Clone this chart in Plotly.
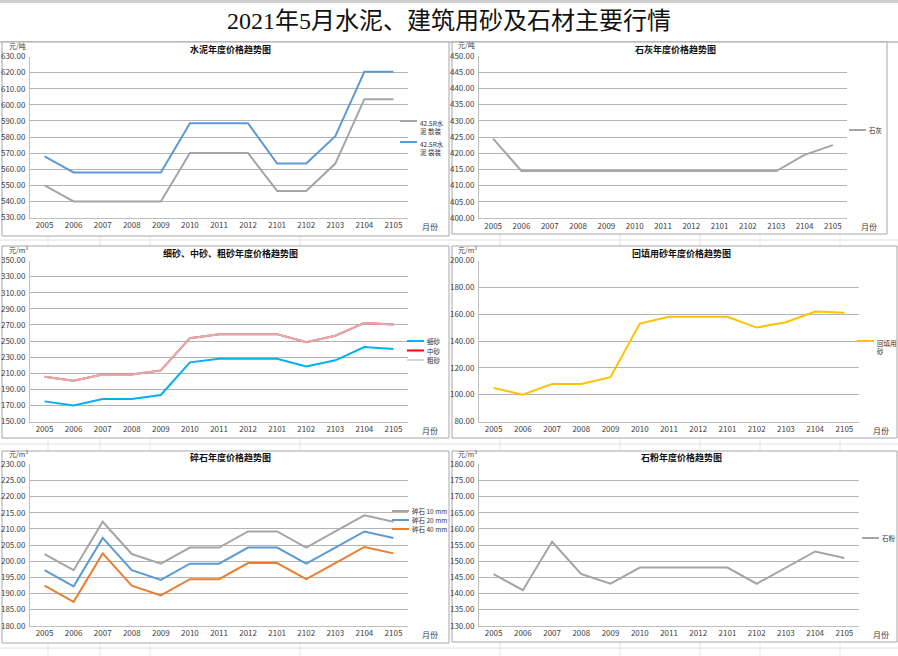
import plotly.graph_objects as go

W, H = 898, 656

months = ["2005", "2006", "2007", "2008", "2009", "2010", "2011", "2012",
          "2101", "2102", "2103", "2104", "2105"]

cement_bulk = [550, 540, 540, 540, 540, 570, 570, 570, 546.5, 546.5, 563.5, 603.5, 603.5]
cement_bag = [568, 558, 558, 558, 558, 588.5, 588.5, 588.5, 563.5, 563.5, 580.5, 620.5, 620.5]

lime = [424.5, 414.5, 414.5, 414.5, 414.5, 414.5, 414.5, 414.5, 414.5, 414.5, 414.5, 419.5, 422.5]

fine_sand = [175, 170, 178, 178, 183, 223.5, 228, 228, 228, 218.5, 226, 242.5, 240]
medium_sand = [205.5, 200.5, 208.5, 208.5, 213.5, 253.5, 258.5, 258.5, 258.5, 248.5, 256.5, 272.5, 270.5]
coarse_sand = [205.5, 200.5, 208.5, 208.5, 213.5, 253.5, 258.5, 258.5, 258.5, 248.5, 256.5, 272.5, 270.5]

backfill_sand = [105, 100, 108, 108, 113, 153, 158, 158, 158, 150, 154, 162, 161]

stone_10 = [202.2, 197.2, 212.2, 202.2, 199.2, 204.2, 204.2, 209.2, 209.2, 204.2, 209.2, 214.2, 212.2]
stone_20 = [197.2, 192.2, 207.2, 197.2, 194.2, 199.2, 199.2, 204.2, 204.2, 199.2, 204.2, 209.2, 207.2]
stone_40 = [192.4, 187.4, 202.4, 192.4, 189.4, 194.4, 194.4, 199.4, 199.4, 194.4, 199.4, 204.4, 202.4]

stone_powder = [146, 141, 156, 146, 143, 148, 148, 148, 148, 143, 148, 153, 151]

main_title = "2021年5月水泥、建筑用砂及石材主要行情"

CJK = "Noto Sans CJK SC, Liberation Sans, sans-serif"
TXT = "#404040"

panels = [
    dict(title="水泥年度价格趋势图", unit="元/吨",
         series=[("42.5R水<br>泥 散装", cement_bulk, "#a5a5a5", 1.0),
                 ("42.5R水<br>泥 袋装", cement_bag, "#5b9bd5", 1.0)],
         yr=(530, 630), dt=10, box=(30, 56.5, 408, 217.5), frame=(2, 42, 449, 236),
         leg=(400, [121, 142]), wrap=True),
    dict(title="石灰年度价格趋势图", unit="元/吨",
         series=[("石灰", lime, "#a5a5a5", 1.0)],
         yr=(400, 450), dt=5, box=(479, 56, 847, 218), frame=(452, 42, 887, 234),
         leg=(849, [130]), wrap=False),
    dict(title="细砂、中砂、粗砂年度价格趋势图", unit="元/m³",
         series=[("细砂", fine_sand, "#00b0f0", 1.0),
                 ("中砂", medium_sand, "#ff0000", 1.0),
                 ("粗砂", coarse_sand, "#d9d9d9", 0.8)],
         yr=(150, 350), dt=20, box=(30, 260.5, 408, 421.5), frame=(2, 246, 449, 438),
         leg=(407, [341, 350.5, 360]), wrap=False),
    dict(title="回填用砂年度价格趋势图", unit="元/m³",
         series=[("回填用<br>砂", backfill_sand, "#ffc000", 1.0)],
         yr=(80, 200), dt=20, box=(479, 260.5, 859, 421.5), frame=(452, 246, 897, 438),
         leg=(857, [341]), wrap=True),
    dict(title="碎石年度价格趋势图", unit="元/m³",
         series=[("碎石 10 mm", stone_10, "#a5a5a5", 1.0),
                 ("碎石 20 mm", stone_20, "#5b9bd5", 1.0),
                 ("碎石 40 mm", stone_40, "#ed7d31", 1.0)],
         yr=(180, 230), dt=5, box=(30, 464.3, 408, 625.7), frame=(2, 451, 449, 643),
         leg=(392, [511, 520, 529]), wrap=False),
    dict(title="石粉年度价格趋势图", unit="元/m³",
         series=[("石粉", stone_powder, "#a5a5a5", 1.0)],
         yr=(130, 180), dt=5, box=(479, 464.3, 859, 625.7), frame=(452, 451, 897, 642),
         leg=(862, [538]), wrap=False),
]

fig = go.Figure()
shapes = []
annotations = []


def px(x):
    return x / W


def py(y):
    return 1 - y / H


# decorative spreadsheet grid lines
for xv in [48, 100, 150, 300, 500, 620, 700, 760, 840]:
    shapes.append(dict(type="line", xref="paper", yref="paper", x0=px(xv), x1=px(xv),
                       y0=py(656), y1=py(42), line=dict(color="#e6e6e6", width=1), layer="below"))
for yv in [240, 444, 648]:
    shapes.append(dict(type="line", xref="paper", yref="paper", x0=0, x1=1,
                       y0=py(yv), y1=py(yv), line=dict(color="#e0e0e0", width=1), layer="below"))
shapes.append(dict(type="rect", xref="paper", yref="paper", x0=0, x1=1, y0=py(3), y1=1,
                   fillcolor="#d0d0d0", line=dict(width=0), layer="below"))
shapes.append(dict(type="line", xref="paper", yref="paper", x0=0, x1=1, y0=py(42), y1=py(42),
                   line=dict(color="#b8b8c8", width=1.5), layer="below"))

annotations.append(dict(text=main_title, xref="paper", yref="paper", x=0.5, y=py(21),
                        showarrow=False, xanchor="center", yanchor="middle",
                        font=dict(family="Liberation Serif, Noto Sans CJK SC, serif", size=24, color="#111111")))

for i, p in enumerate(panels):
    n = i + 1
    xa = "x" if n == 1 else f"x{n}"
    ya = "y" if n == 1 else f"y{n}"
    x0, y0, x1, y1 = p["box"]
    fx0, fy0, fx1, fy1 = p["frame"]
    shapes.append(dict(type="rect", xref="paper", yref="paper", x0=px(fx0), x1=px(fx1),
                       y0=py(fy1), y1=py(fy0), fillcolor="white",
                       line=dict(color="#a6a6a6", width=1), layer="below"))
    for name, vals, col, op in p["series"]:
        clean = name.replace("<br>", "")
        fig.add_trace(go.Scatter(x=months, y=vals, mode="lines", name=clean,
                                 line=dict(color=col, width=2), opacity=op,
                                 xaxis=xa, yaxis=ya, showlegend=False,
                                 hovertemplate="%{x}: %{y:.2f}<extra>" + clean + "</extra>"))
    xkey = "xaxis" if n == 1 else f"xaxis{n}"
    ykey = "yaxis" if n == 1 else f"yaxis{n}"
    fig.update_layout(**{
        xkey: dict(domain=[px(x0), px(x1)], anchor=ya, type="category",
                   categoryorder="array", categoryarray=months,
                   range=[-0.5, len(months) - 0.5], showgrid=False,
                   showline=True, linecolor="#bfbfbf", linewidth=1,
                   ticks="", tickfont=dict(family=CJK, size=8, color=TXT),
                   fixedrange=True, zeroline=False, automargin=False),
        ykey: dict(domain=[py(y1), py(y0)], anchor=xa, range=list(p["yr"]),
                   dtick=p["dt"], tick0=p["yr"][0], tickformat=".2f",
                   showgrid=True, gridcolor="#b4b4b4", gridwidth=1,
                   showline=True, linecolor="#bfbfbf", linewidth=1,
                   ticks="", tickfont=dict(family=CJK, size=8, color=TXT),
                   ticklabelstandoff=2, fixedrange=True, zeroline=False, automargin=False),
    })
    annotations.append(dict(text="<b>" + p["title"] + "</b>", xref="paper", yref="paper",
                            x=px((x0 + x1) / 2 + 12), y=py(y0 - 7), showarrow=False,
                            xanchor="center", yanchor="middle",
                            font=dict(family=CJK, size=9, color="#111111")))
    annotations.append(dict(text=p["unit"], xref="paper", yref="paper",
                            x=px(x0 - 23), y=py(y0 - 10.5), showarrow=False,
                            xanchor="left", yanchor="middle",
                            font=dict(family=CJK, size=7, color=TXT)))
    annotations.append(dict(text="月份", xref="paper", yref="paper",
                            x=px(x1 + 12), y=py(y1 + 9), showarrow=False,
                            xanchor="left", yanchor="middle",
                            font=dict(family=CJK, size=8, color=TXT)))
    lx, lys = p["leg"]
    for (name, vals, col, op), ly in zip(p["series"], lys):
        shapes.append(dict(type="line", xref="paper", yref="paper", x0=px(lx), x1=px(lx + 17),
                           y0=py(ly), y1=py(ly), line=dict(color=col, width=2)))
        annotations.append(dict(text=name, xref="paper", yref="paper",
                                x=px(lx + 18), y=py(ly - (5 if p["wrap"] else 0)), showarrow=False,
                                xanchor="left", yanchor="top" if p["wrap"] else "middle",
                                align="left",
                                font=dict(family=CJK, size=6.5, color="#303030")))

fig.update_layout(width=W, height=H, margin=dict(l=0, r=0, t=0, b=0, autoexpand=False),
                  paper_bgcolor="white", plot_bgcolor="rgba(0,0,0,0)",
                  shapes=shapes, annotations=annotations, showlegend=False)

post = ("document.body.style.margin='0';document.body.style.overflow='hidden';"
        "var gd=document.getElementById('{plot_id}');gd.style.position='fixed';"
        "gd.style.left='0px';gd.style.top='0px';")

fig.write_html("out.html", post_script=post, config={"displayModeBar": False})
